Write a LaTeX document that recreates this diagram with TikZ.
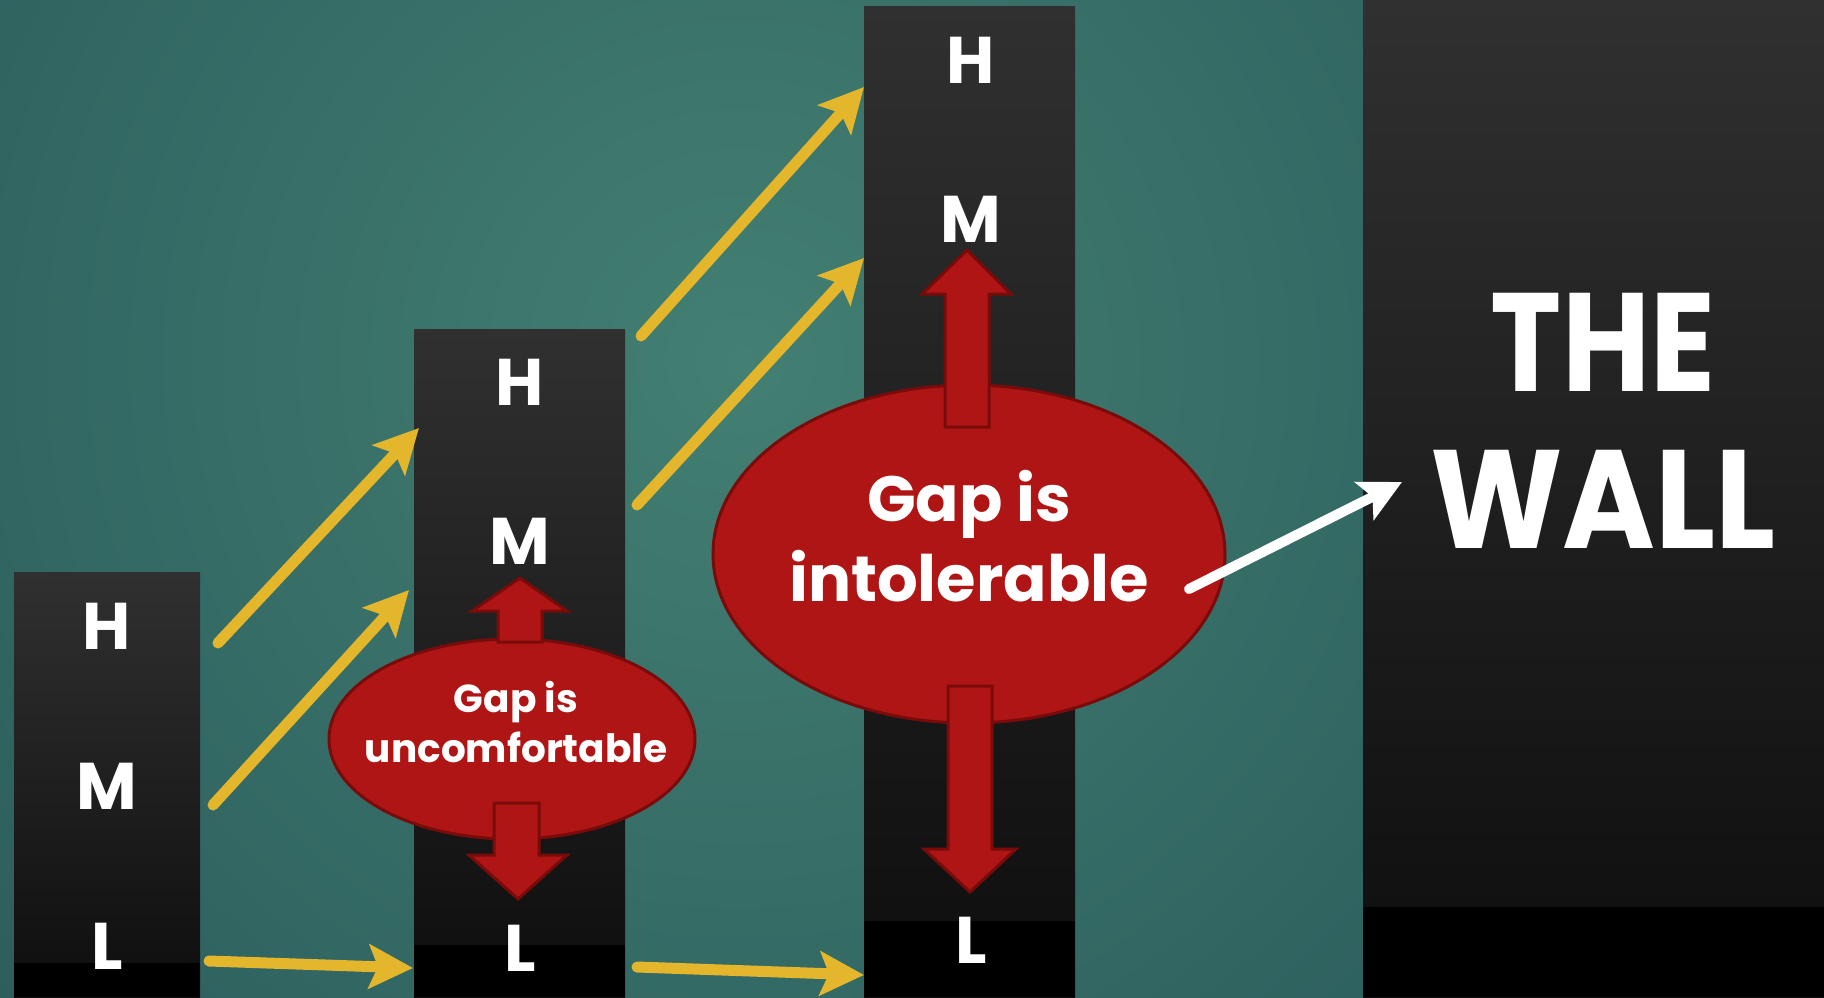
\documentclass[tikz,border=0pt]{standalone}
\usepackage{fontspec}
\setmainfont{Poppins}
\usetikzlibrary{arrows.meta,shapes.geometric}
\definecolor{bgin}{HTML}{437F72}
\definecolor{bgout}{HTML}{1D4950}
\definecolor{colTop}{HTML}{303030}
\definecolor{colBot}{HTML}{0E0E0E}
\definecolor{gapred}{HTML}{AF1515}
\definecolor{gapedge}{HTML}{7A0B0B}
\definecolor{gold}{HTML}{E3B62C}
\begin{document}
\begin{tikzpicture}[x=1pt,y=-1pt,
  column/.style={top color=colTop,bottom color=colBot,draw=none,inner sep=0,anchor=north west},
  lvl/.style={text=white,font=\fontsize{66}{66}\selectfont\bfseries,inner sep=0},
  goldarrow/.style={draw=gold,line width=11pt,line cap=round,-{Stealth[length=44pt,width=44pt,inset=9pt]}},
  whitearrow/.style={draw=white,line width=10pt,line cap=round,-{Stealth[length=42pt,width=42pt,inset=9pt]}},
  gapoval/.style={ellipse,fill=gapred,draw=gapedge,line width=3pt,inner sep=0},
  blockarrow/.style={fill=gapred,draw=gapedge,line width=3pt,line join=miter},
  gaptext/.style={text=white,align=center,inner sep=0}
]
\useasboundingbox (0,0) rectangle (1824,997);
% background
\fill[bgout] (0,0) rectangle (1824,997);
\begin{scope}
\clip (0,0) rectangle (1824,997);
\shade[inner color=bgin,outer color=bgout] (740,360) circle (1600);
\end{scope}

% columns
\node[column,minimum width=186pt,minimum height=425pt] (c1) at (14,572) {};
\fill[black] (c1.south west) rectangle ([yshift=34pt]c1.south east);
\node[column,minimum width=211pt,minimum height=668pt] (c2) at (414,329) {};
\fill[black] (c2.south west) rectangle ([yshift=52pt]c2.south east);
\node[column,minimum width=211pt,minimum height=991pt] (c3) at (864,6) {};
\fill[black] (c3.south west) rectangle ([yshift=76pt]c3.south east);
\node[column,minimum width=461pt,minimum height=997pt] (wall) at (1363,0) {};
\fill[black] (wall.south west) rectangle ([yshift=90pt]wall.south east);

% level labels
\node[lvl] (c1H) at (107,626) {H};
\node[lvl] (c1M) at (107,786) {M};
\node[lvl] (c1L) at (107,946) {L};
\node[lvl] (c2H) at (520,382) {H};
\node[lvl] (c2M) at (520,541) {M};
\node[lvl] (c2L) at (520,948) {L};
\node[lvl] (c3H) at (971,60) {H};
\node[lvl] (c3M) at (971,219) {M};
\node[lvl] (c3L) at (971,940) {L};

% wall text
\node[text=white,align=center,inner sep=0,font=\fontsize{140}{157}\selectfont\bfseries] (walltext) at (1603,421) {\scalebox{0.86}[1]{THE}\\\scalebox{0.9}[1]{WALL}};

% yellow arrows
\coordinate (a1s) at (218,643); \coordinate (a1e) at (419,428);
\coordinate (a2s) at (213,805); \coordinate (a2e) at (409,590);
\coordinate (a3s) at (209,961); \coordinate (a3e) at (413,968);
\coordinate (a4s) at (641,336); \coordinate (a4e) at (864,87);
\coordinate (a5s) at (637,505); \coordinate (a5e) at (864,258);
\coordinate (a6s) at (637,967); \coordinate (a6e) at (864,975);
\draw[goldarrow] (a1s) -- (a1e);
\draw[goldarrow] (a2s) -- (a2e);
\draw[goldarrow] (a3s) -- (a3e);
\draw[goldarrow] (a4s) -- (a4e);
\draw[goldarrow] (a5s) -- (a5e);
\draw[goldarrow] (a6s) -- (a6e);

% small gap
\node[gapoval,minimum width=366pt,minimum height=200pt] (gap1) at (512,739) {};
\node[gaptext,font=\fontsize{39}{50}\selectfont\bfseries] (gap1text) at (516,722) {Gap is\\uncomfortable};
\draw[blockarrow] (498,642) -- (498,611) -- (472,611) -- (520,578) -- (567,611) -- (542,611) -- (542,642) -- cycle;
\draw[blockarrow] (494,803) -- (494,855) -- (469,855) -- (518,899) -- (567,855) -- (539,855) -- (539,803) -- cycle;

% big gap
\node[gapoval,minimum width=512pt,minimum height=338pt] (gap2) at (969,554) {};
\node[gaptext,font=\fontsize{64}{80}\selectfont\bfseries] (gap2text) at (969,536) {Gap is\\intolerable};
\draw[blockarrow] (945,427) -- (945,294) -- (922,294) -- (967,250) -- (1011,294) -- (989,294) -- (989,427) -- cycle;
\draw[blockarrow] (948,686) -- (948,849) -- (924,849) -- (970,892) -- (1016,849) -- (992,849) -- (992,686) -- cycle;

% white arrow
\coordinate (ws) at (1189,589); \coordinate (we) at (1402,482);
\draw[whitearrow] (ws) -- (we);
\end{tikzpicture}
\end{document}
